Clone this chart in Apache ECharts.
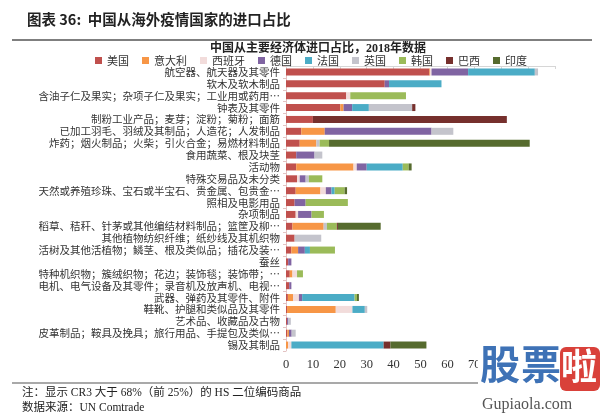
<!DOCTYPE html>
<html>
<head>
<meta charset="utf-8">
<script src="https://cdn.jsdelivr.net/npm/echarts@6/dist/echarts.min.js"></script>
<style>
  html, body { margin: 0; padding: 0; background: #fff; }
  #chart { width: 600px; height: 417px; }
</style>
</head>
<body>
<div id="chart"></div>
<script>
  // 商品类别（从上到下）
  var categories = [
    '航空器、航天器及其零件',
    '软木及软木制品',
    '含油子仁及果实；杂项子仁及果实；工业用或药用…',
    '钟表及其零件',
    '制粉工业产品；麦芽；淀粉；菊粉；面筋',
    '已加工羽毛、羽绒及其制品；人造花；人发制品',
    '炸药；烟火制品；火柴；引火合金；易燃材料制品',
    '食用蔬菜、根及块茎',
    '活动物',
    '特殊交易品及未分类',
    '天然或养殖珍珠、宝石或半宝石、贵金属、包贵金…',
    '照相及电影用品',
    '杂项制品',
    '稻草、秸秆、针茅或其他编结材料制品；篮筐及柳…',
    '其他植物纺织纤维；纸纱线及其机织物',
    '活树及其他活植物；鳞茎、根及类似品；插花及装…',
    '蚕丝',
    '特种机织物；簇绒织物；花边；装饰毯；装饰带；…',
    '电机、电气设备及其零件；录音机及放声机、电视…',
    '武器、弹药及其零件、附件',
    '鞋靴、护腿和类似品及其零件',
    '艺术品、收藏品及古物',
    '皮革制品；鞍具及挽具；旅行用品、手提包及类似…',
    '锡及其制品'
  ];

  // 各国占比 (%)
  var usa     = [53.3, 36.7, 22.4, 20.2, 10.0, 5.7, 5.1, 3.8, 3.8, 4.1, 3.6, 3.2, 3.6, 2.4, 3.2, 2.0, 0.8, 1.4, 1.2, 0.7, 0.4, 0.4, 0.5, 0];
  var italy   = [0.3, 0, 0, 1.2, 0, 8.7, 6.2, 0, 21.3, 0, 9.2, 0, 0, 11.6, 0, 2.5, 0, 1.0, 0, 1.9, 18.1, 0, 0.6, 0.8];
  var spain   = [0.5, 0, 1.5, 0, 0, 0, 0, 0, 1.2, 1.0, 2.0, 0, 0.9, 0, 0, 0, 0, 1.7, 0, 2.2, 6.2, 0, 0, 1.2];
  var germany = [13.6, 1.6, 0, 3.2, 0, 39.7, 0, 6.8, 3.7, 2.2, 2.1, 4.1, 5.0, 0, 0, 2.5, 1.2, 0, 0.8, 1.2, 0, 0.5, 1.0, 0];
  var france  = [24.8, 19.5, 0, 6.2, 0, 0, 0, 0, 13.4, 0, 1.2, 0, 0, 0, 0, 1.9, 0, 0, 0, 19.5, 4.6, 0, 0, 34.3];
  var uk      = [1.2, 0, 0, 16.1, 0, 8.1, 1.2, 2.9, 0, 1.2, 0, 0, 0, 1.2, 9.9, 0, 0, 0, 0, 0, 0.9, 0.9, 1.5, 0];
  var korea   = [0, 0, 20.7, 0, 0, 0, 3.5, 0, 2.2, 5.0, 3.7, 15.7, 4.6, 3.7, 0, 9.3, 0, 2.2, 0, 0.9, 0, 0, 0, 0];
  var brazil  = [0, 0, 0, 1.2, 72.1, 0, 0, 0, 0, 0, 0, 0, 0, 0.4, 0, 0, 0, 0, 0, 0, 0, 0, 0, 2.5];
  var india   = [0, 0, 0, 0, 0, 0, 74.6, 0, 1.1, 0, 0.9, 0, 0, 15.9, 0, 0, 0, 0, 0, 0.7, 0, 0, 0, 13.4];

  var countries = ['美国', '意大利', '西班牙', '德国', '法国', '英国', '韩国', '巴西', '印度'];
  var values = [usa, italy, spain, germany, france, uk, korea, brazil, india];
  var colors = ['#C0504D', '#F79646', '#F2DCDB', '#8064A2', '#4BACC6', '#C4C4CC', '#9BBB59', '#76302D', '#566B2E'];

  var series = countries.map(function (name, i) {
    return {
      name: name,
      type: 'bar',
      stack: 'total',
      barWidth: 7,
      xAxisIndex: 0,
      itemStyle: { color: colors[i] },
      data: values[i]
    };
  });

  var myChart = echarts.init(document.getElementById('chart'));
  var option = {
    backgroundColor: '#fff',
    animation: false,
    color: colors,
    title: [{
      text: '图表 36:  中国从海外疫情国家的进口占比',
      left: 27,
      top: 12,
      padding: 0,
      textStyle: { fontSize: 14.5, fontWeight: 'bold', color: '#222', fontFamily: 'Noto Sans CJK SC' }
    }, {
      text: '中国从主要经济体进口占比，2018年数据',
      left: 210,
      top: 43,
      padding: 0,
      textStyle: { fontSize: 12, fontWeight: 'bold', color: '#222', fontFamily: 'Liberation Serif, Noto Sans CJK SC' }
    }],
    legend: {
      data: countries,
      left: 95,
      top: 55,
      padding: 0,
      icon: 'rect',
      itemWidth: 7,
      itemHeight: 7,
      itemGap: 13,
      textStyle: { fontSize: 11, color: '#333', fontFamily: 'Noto Sans CJK SC' }
    },
    grid: {
      left: 286,
      right: 45,
      top: 66,
      bottom: 66
    },
    xAxis: [{
      type: 'value',
      position: 'top',
      min: 0,
      max: 100,
      interval: 10,
      axisLine: { show: true, lineStyle: { color: '#D6D6D6' } },
      axisTick: { show: true, inside: true, length: 3, lineStyle: { color: '#D6D6D6' } },
      axisLabel: { show: false },
      splitLine: { show: false }
    }, {
      type: 'value',
      position: 'bottom',
      min: 0,
      max: 100,
      interval: 10,
      axisLine: { show: false },
      axisTick: { show: false },
      axisLabel: { show: true, fontSize: 12.5, color: '#333', margin: 7, fontFamily: 'Liberation Serif' },
      splitLine: { show: false }
    }],
    yAxis: {
      type: 'category',
      inverse: true,
      data: categories,
      axisLine: { show: true, lineStyle: { color: '#E3C3C3' } },
      axisTick: { show: true, length: 3, lineStyle: { color: '#E3C3C3' } },
      axisLabel: { interval: 0, fontSize: 10.5, color: '#333', margin: 6, fontFamily: 'Noto Sans CJK SC' }
    },
    graphic: [
      // 标题下横线
      { type: 'line', shape: { x1: 12, y1: 40, x2: 592, y2: 40 }, style: { stroke: '#555', lineWidth: 1.5 } },
      // 注释上横线
      { type: 'line', shape: { x1: 12, y1: 383, x2: 480, y2: 383 }, style: { stroke: '#555', lineWidth: 1.2 } },
      { type: 'text', left: 22, top: 387, style: { text: '注：显示 CR3 大于 68%（前 25%）的 HS 二位编码商品', fontSize: 11.5, fill: '#222', fontFamily: 'Liberation Serif, Noto Sans CJK SC' } },
      { type: 'text', left: 22, top: 402, style: { text: '数据来源：UN Comtrade', fontSize: 11.5, fill: '#222', fontFamily: 'Liberation Serif, Noto Sans CJK SC' } },
      // 水印
      { type: 'rect', z: 100, shape: { x: 478, y: 340, width: 122, height: 77 }, style: { fill: '#fff' } },
      { type: 'text', z: 101, left: 480, top: 344, style: { text: '股', fontSize: 40, fontWeight: 'bold', fill: '#3E72B6', fontFamily: 'Noto Sans CJK SC' } },
      { type: 'text', z: 101, left: 521, top: 344, style: { text: '票', fontSize: 40, fontWeight: 'bold', fill: '#3E72B6', fontFamily: 'Noto Sans CJK SC' } },
      { type: 'rect', z: 101, shape: { x: 560, y: 347, width: 40, height: 44, r: 6 }, style: { fill: '#D9413A' } },
      { type: 'text', z: 102, left: 561, top: 348, style: { text: '啦', fontSize: 36, fontWeight: 'bold', fill: '#fff', fontFamily: 'Noto Sans CJK SC' } },
      { type: 'text', z: 101, left: 482, top: 397, style: { text: 'Gupiaola.com', fontSize: 16, fill: '#555', fontFamily: 'Liberation Serif' } }
    ],
    series: series
  };
  myChart.setOption(option);
</script>
</body>
</html>
